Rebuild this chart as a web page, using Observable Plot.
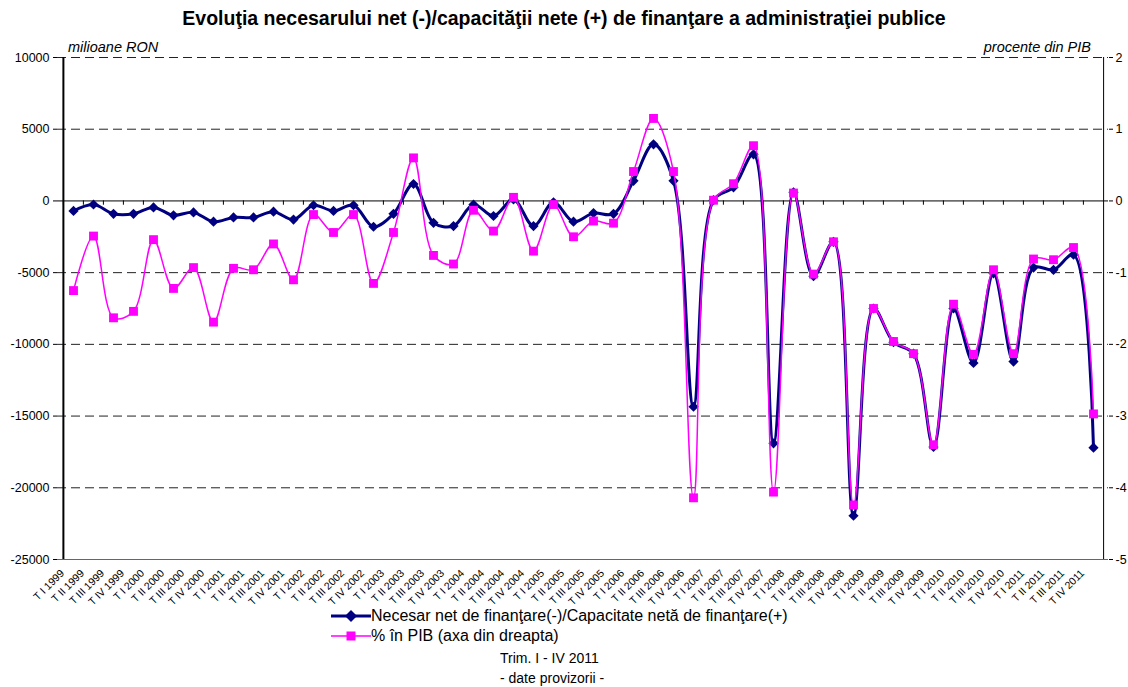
<!DOCTYPE html>
<html>
<head>
<meta charset="utf-8">
<script src="https://cdn.jsdelivr.net/npm/d3@7"></script>
<script src="https://cdn.jsdelivr.net/npm/@observablehq/plot@0.6"></script>
<style>
  html, body { margin: 0; padding: 0; background: #fff; overflow: hidden; }
  #wrap { position: relative; width: 1128px; height: 687px; font-family: Arial, "Liberation Sans", sans-serif; }
  #title { position: absolute; left: 0; width: 1128px; top: 7px; text-align: center; font-weight: bold; font-size: 19.5px; color: #000; }
  #chart { position: absolute; left: 0; top: 0; }
  .unit { position: absolute; top: 39px; font-style: italic; font-size: 14.5px; color: #000; }
  .leg { position: absolute; font-size: 16px; color: #000; white-space: nowrap; display: flex; align-items: center; height: 18px; }
  .note { position: absolute; font-size: 14px; color: #000; white-space: nowrap; }
</style>
</head>
<body>
<div id="wrap">
  <div id="chart"></div>
  <div id="title">Evoluţia necesarului net (-)/capacităţii nete (+) de finanţare a administraţiei publice</div>
  <div class="unit" style="left:68px">milioane RON</div>
  <div class="unit" style="right:37px">procente din PIB</div>
  <div class="leg" style="left:331px; top:607px">
    <svg width="40" height="14"><line x1="0" y1="7" x2="40" y2="7" stroke="#000080" stroke-width="3"/><path d="M20,1 L26,7 L20,13 L14,7 Z" fill="#000080"/></svg>
    <span>Necesar net de finanţare(-)/Capacitate netă de finanţare(+)</span>
  </div>
  <div class="leg" style="left:331px; top:627px">
    <svg width="40" height="14"><line x1="0" y1="7" x2="40" y2="7" stroke="#FF00FF" stroke-width="1.5"/><rect x="15.5" y="2.5" width="9" height="9" fill="#FF00FF"/></svg>
    <span>% în PIB (axa din dreapta)</span>
  </div>
  <div class="note" style="left:500px; top:650px">Trim. I - IV 2011</div>
  <div class="note" style="left:500px; top:670px">- date provizorii -</div>
</div>
<script>
const quarters = ["T I", "T II", "T III", "T IV"];
const years = [1999, 2000, 2001, 2002, 2003, 2004, 2005, 2006, 2007, 2008, 2009, 2010, 2011];
const categories = years.flatMap(y => quarters.map(q => `${q} ${y}`));

// Necesar net de finanţare(-)/Capacitate netă de finanţare(+), milioane RON
const balanceMln = [
  -700, -250, -900, -900,
  -450, -1000, -800, -1450,
  -1150, -1150, -750, -1300,
  -300, -700, -300, -1800,
  -900, 1180, -1530, -1750,
  -250, -1050, 100, -1750,
  -100, -1450, -850, -900,
  1400, 3950, 1400, -14350,
  50, 950, 3250, -16900,
  600, -5250, -2850, -21950,
  -7500, -9850, -10650, -17150,
  -7500, -11300, -5050, -11200,
  -4650, -4800, -3750, -17200
];

// % în PIB (axa din dreapta)
const balancePct = [
  -1.25, -0.49, -1.63, -1.54,
  -0.54, -1.22, -0.93, -1.69,
  -0.94, -0.96, -0.60, -1.10,
  -0.19, -0.44, -0.19, -1.15,
  -0.44, 0.60, -0.76, -0.88,
  -0.13, -0.42, 0.05, -0.70,
  -0.05, -0.50, -0.28, -0.31,
  0.41, 1.15, 0.41, -4.14,
  0.01, 0.24, 0.77, -4.06,
  0.11, -1.02, -0.57, -4.24,
  -1.50, -1.96, -2.13, -3.40,
  -1.44, -2.14, -0.96, -2.13,
  -0.81, -0.82, -0.65, -2.97
];

const leftTicks = [10000, 5000, 0, -5000, -10000, -15000, -20000, -25000];
const rightTicks = [2, 1, 0, -1, -2, -3, -4, -5];
const dashedLevels = [10000, 5000, -5000, -10000, -15000, -20000];

const ratio = 5000; // 1% of GDP on the right axis equals 5000 on the left axis

const mln = categories.map((c, i) => ({cat: c, v: balanceMln[i]}));
const pct = categories.map((c, i) => ({cat: c, v: balancePct[i] * ratio}));

const W = 1128, mL = 57, mR = 20;
const bw = (W - mL - mR) / categories.length;

const chart = Plot.plot({
  width: W,
  height: 612,
  marginLeft: mL,
  marginRight: mR,
  marginTop: 57,
  marginBottom: 53,
  style: {fontFamily: "Arial, 'Liberation Sans', sans-serif", background: "transparent", overflow: "visible"},
  x: {type: "band", domain: categories, padding: 0, axis: null},
  y: {domain: [-25000, 10000], axis: null},
  marks: [
    Plot.ruleY(dashedLevels, {stroke: "#222", strokeWidth: 1, strokeDasharray: "9,5"}),
    Plot.ruleY([-25000], {stroke: "#666", strokeWidth: 1}),
    Plot.ruleY([0], {stroke: "#000", strokeWidth: 1}),
    Plot.ruleX(categories, {x: d => d, y1: 0, y2: -300, dx: -bw / 2, stroke: "#000", strokeWidth: 1}),
    Plot.ruleX([categories[0]], {dx: -bw / 2, stroke: "#000", strokeWidth: 2}),
    Plot.ruleX([categories[categories.length - 1]], {dx: bw / 2, stroke: "#000", strokeWidth: 1}),
    Plot.axisY({anchor: "left", label: null, ticks: leftTicks, tickSize: 4, tickPadding: 4, fontSize: 12.5, tickFormat: d => String(d)}),
    Plot.axisY({anchor: "right", label: null, ticks: rightTicks.map(t => t * ratio), tickSize: 4, tickPadding: 3, fontSize: 12.5, tickFormat: d => String(d / ratio)}),
    Plot.axisX({anchor: "bottom", label: null, tickRotate: -45, tickSize: 0, tickPadding: 12, fontSize: 10.5, dx: -11}),
    Plot.line(mln, {x: "cat", y: "v", stroke: "#000080", strokeWidth: 3, curve: "catmull-rom"}),
    Plot.dot(mln, {x: "cat", y: "v", symbol: "diamond2", r: 4.6, fill: "#000080", stroke: "none"}),
    Plot.line(pct, {x: "cat", y: "v", stroke: "#FF00FF", strokeWidth: 1.5, curve: "catmull-rom"}),
    Plot.dot(pct, {x: "cat", y: "v", symbol: "square", r: 5, fill: "#FF00FF", stroke: "none"})
  ]
});
document.getElementById("chart").appendChild(chart);
</script>
</body>
</html>
